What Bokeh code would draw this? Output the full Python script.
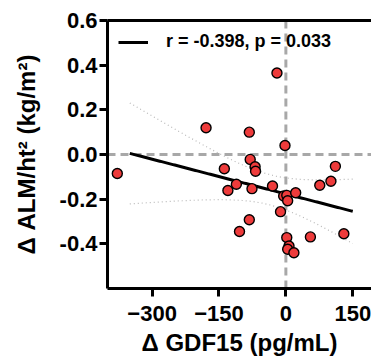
import numpy as np
from bokeh.plotting import figure
from bokeh.models import (Range1d, FixedTicker, LinearAxis, Span, Legend,
                          LegendItem, NumeralTickFormatter)
from bokeh.core.properties import value
from bokeh.embed import file_html
from bokeh.resources import INLINE

# ---- data ----
gdf15 = [-378, -179, -138, -20, -82, -2, -80, -69, -68, 111, -111, -130, -104,
         -76, -30, -5, 2, 4, 22, -12, -82, 76, 101, 130, 55, 2, 7, 4, 18]
alm = [-0.085, 0.12, -0.064, 0.365, 0.10, 0.04, -0.022, -0.055, -0.075, -0.053,
       -0.133, -0.161, -0.345, -0.153, -0.141, -0.186, -0.183, -0.207, -0.171,
       -0.256, -0.292, -0.138, -0.12, -0.355, -0.369, -0.372, -0.41, -0.424, -0.44]
fit_x_range = [-350, 150]
x_ticks = [-300, -150, 0, 150]
y_ticks = [-0.4, -0.2, 0.0, 0.2, 0.4, 0.6]
legend_text = "r = -0.398, p = 0.033"
x_title = "Δ GDF15 (pg/mL)"
y_title = "Δ ALM/ht² (kg/m²)"

FONT = "Liberation Sans"

# ---- linear fit with 95% confidence band ----
x = np.array(gdf15, dtype=float)
y = np.array(alm, dtype=float)
n = len(x)
slope, intercept = np.polyfit(x, y, 1)
xs = np.linspace(fit_x_range[0], fit_x_range[1], 120)
yhat = intercept + slope * xs
resid = y - (intercept + slope * x)
s = np.sqrt(np.sum(resid ** 2) / (n - 2))
t_crit = 2.0518  # t(0.975, df=27)
se = s * np.sqrt(1.0 / n + (xs - x.mean()) ** 2 / np.sum((x - x.mean()) ** 2))
upper = yhat + t_crit * se
lower = yhat - t_crit * se

p = figure(width=371, height=358,
           min_border_left=107, min_border_top=20, min_border_right=0,
           min_border_bottom=70,
           x_range=Range1d(-400, 192), y_range=Range1d(-0.6, 0.6),
           output_backend="svg", toolbar_location=None)
p.xgrid.visible = False
p.ygrid.visible = False
p.outline_line_color = None
p.background_fill_color = "white"
p.border_fill_color = "white"

for ax in (p.xaxis[0], p.yaxis[0]):
    ax.axis_line_width = 3
    ax.axis_line_color = "black"
    ax.major_tick_line_width = 3
    ax.major_tick_line_color = "black"
    ax.major_tick_out = 8
    ax.major_tick_in = 0
    ax.minor_tick_out = 0
    ax.minor_tick_in = 0
    ax.major_label_text_font = FONT
    ax.major_label_text_font_style = "bold"
    ax.major_label_text_font_size = "22px"
    ax.major_label_text_color = "black"
    ax.axis_label_text_font = FONT
    ax.axis_label_text_font_style = "bold"
    ax.axis_label_text_font_size = "24px"
    ax.axis_label_text_color = "black"

p.xaxis[0].ticker = FixedTicker(ticks=x_ticks)
p.xaxis[0].major_label_standoff = 9
p.xaxis[0].axis_label = x_title
p.xaxis[0].axis_label_standoff = 5

p.yaxis[0].ticker = FixedTicker(ticks=y_ticks)
p.yaxis[0].formatter = NumeralTickFormatter(format="0.0")
p.yaxis[0].major_label_standoff = 2
p.yaxis[0].axis_label = y_title
p.yaxis[0].axis_label_standoff = 17

top = LinearAxis(ticker=FixedTicker(ticks=[]), axis_line_width=3,
                 axis_line_color="black", major_tick_out=0, major_tick_in=0,
                 minor_tick_out=0, minor_tick_in=0,
                 major_label_text_font_size="0px")
p.add_layout(top, "above")

p.add_layout(Span(location=0, dimension="height", line_color="#a8a8a8",
                  line_width=3, line_dash="8 5", level="underlay"))
p.add_layout(Span(location=0, dimension="width", line_color="#a8a8a8",
                  line_width=3, line_dash="8 5", level="underlay"))

p.line(xs, upper, line_color="#b8b8b8", line_width=1.2, line_dash="1 3")
p.line(xs, lower, line_color="#b8b8b8", line_width=1.2, line_dash="1 3")
fit_r = p.line(xs, yhat, line_color="black", line_width=3)
p.scatter(x, y, size=10, fill_color="#EE3B3B", line_color="black",
          line_width=1.4)

legend = Legend(items=[LegendItem(label=value(legend_text), renderers=[fit_r])],
                location="top_left", border_line_color=None,
                background_fill_alpha=0, margin=11, padding=0,
                label_standoff=18, glyph_width=30, glyph_height=16,
                label_height=16, spacing=0,
                label_text_font=FONT, label_text_font_style="bold",
                label_text_font_size="18px", label_text_color="black")
p.add_layout(legend)

open("out.html", "w").write(file_html(p, INLINE))
